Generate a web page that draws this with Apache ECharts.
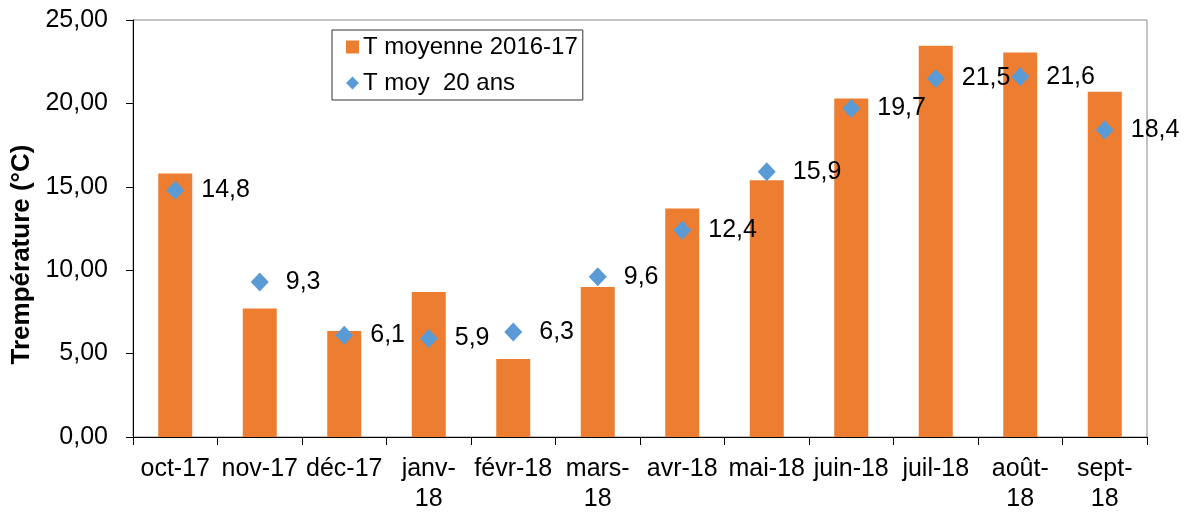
<!DOCTYPE html>
<html>
<head>
<meta charset="utf-8">
<script src="https://cdn.jsdelivr.net/npm/echarts@6/dist/echarts.min.js"></script>
<style>html,body{margin:0;padding:0;background:#fff}#c{width:1184px;height:514px}</style>
</head>
<body>
<div id="c"></div>
<script>
const categories = ['oct-17', 'nov-17', 'déc-17', 'janv-\n18', 'févr-18', 'mars-\n18', 'avr-18', 'mai-18', 'juin-18', 'juil-18', 'août-\n18', 'sept-\n18'];
const tMoyenne = [15.8, 7.7, 6.35, 8.7, 4.67, 9.0, 13.7, 15.4, 20.3, 23.45, 23.05, 20.7];
const tMoy20 = [14.8, 9.3, 6.1, 5.9, 6.3, 9.6, 12.4, 15.9, 19.7, 21.5, 21.6, 18.4];
const seriesNames = ['T moyenne 2016-17', 'T moy  20 ans'];
const yTitle = 'Trempérature (°C)';

const FONT = '"Liberation Sans", Arial, sans-serif';
const chart = echarts.init(document.getElementById('c'), null, {renderer: 'canvas'});
chart.setOption({
  animation: false,
  textStyle: {fontFamily: FONT, color: '#000'},
  grid: {left: 133, right: 37, top: 20, bottom: 76, show: true, borderColor: '#888', borderWidth: 1, backgroundColor: 'transparent'},
  legend: {
    orient: 'vertical', left: 332, top: 30,
    borderColor: '#333', borderWidth: 1, padding: [5, 5, 5, 14],
    itemGap: 12, itemWidth: 13, itemHeight: 13,
    textStyle: {fontSize: 24, color: '#000', fontFamily: FONT, padding: [0, 0, 0, -1]},
    data: [
      {name: seriesNames[0], icon: 'rect', itemStyle: {opacity: 1}},
      {name: seriesNames[1], icon: 'diamond', itemStyle: {opacity: 1}}
    ]
  },
  xAxis: {
    type: 'category', data: categories,
    axisLine: {lineStyle: {color: '#000', width: 1}},
    axisTick: {show: true, length: 8, alignWithLabel: false, lineStyle: {color: '#000'}},
    axisLabel: {fontSize: 25, color: '#000', margin: 17, lineHeight: 30, interval: 0, fontFamily: FONT},
    splitLine: {show: false}
  },
  yAxis: {
    type: 'value', min: 0, max: 25, interval: 5,
    name: yTitle, nameLocation: 'middle', nameGap: 97,
    nameTextStyle: {fontSize: 26, fontWeight: 'bold', color: '#000', fontFamily: FONT, padding: [0, 52, 0, 0]},
    axisLine: {show: true, lineStyle: {color: '#000', width: 1}},
    axisTick: {show: true, length: 7, lineStyle: {color: '#000'}},
    axisLabel: {fontSize: 25, color: '#000', margin: 25, fontFamily: FONT,
      formatter: v => v.toFixed(2).replace('.', ',')},
    splitLine: {show: false}
  },
  series: [
    {
      name: seriesNames[0], type: 'bar', data: tMoyenne, barWidth: 34,
      itemStyle: {color: '#ED7D31'}
    },
    {
      name: seriesNames[1], type: 'scatter', data: tMoy20,
      symbol: 'diamond', symbolSize: [18, 19],
      itemStyle: {color: '#5B9BD5', opacity: 1},
      label: {show: true, position: 'right', distance: 17, fontSize: 25, color: '#000', fontFamily: FONT,
        formatter: p => String(p.value).replace('.', ',')}
    }
  ]
});
</script>
</body>
</html>
